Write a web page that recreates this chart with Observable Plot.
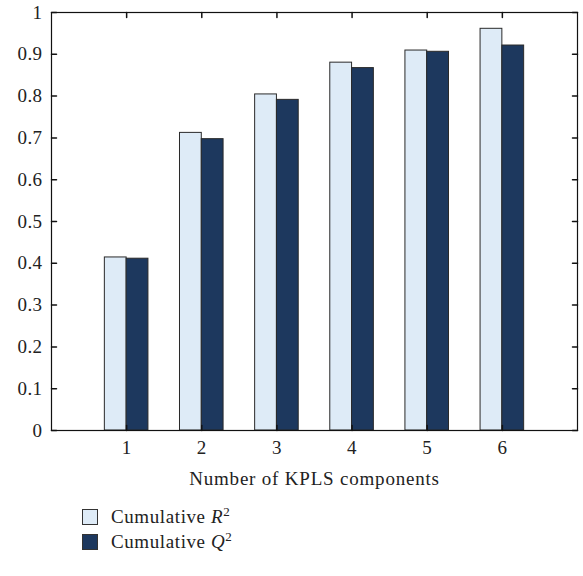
<!DOCTYPE html>
<html>
<head>
<meta charset="utf-8">
<script src="https://cdn.jsdelivr.net/npm/d3@7"></script>
<script src="https://cdn.jsdelivr.net/npm/@observablehq/plot@0.6"></script>
<style>
  body { margin: 0; background: #fff; font-family: "Liberation Serif", serif; }
  #legend { margin-left: 82px; margin-top: 9px; font-size: 19px; color: #222; letter-spacing: 0.6px; }
  .item { display: flex; align-items: center; height: 25px; }
  .sw { width: 14px; height: 14px; border: 1px solid #333; margin-right: 13px; }
  svg text { letter-spacing: 0.4px; }
  svg .xlab text { letter-spacing: 0.8px; }
</style>
</head>
<body>
<div id="chart"></div>
<div id="legend"></div>
<script>
const components = [1, 2, 3, 4, 5, 6];
const cumulativeR2 = [0.414, 0.712, 0.804, 0.880, 0.909, 0.961];
const cumulativeQ2 = [0.411, 0.697, 0.791, 0.867, 0.906, 0.921];
const yTicks = [0, 0.1, 0.2, 0.3, 0.4, 0.5, 0.6, 0.7, 0.8, 0.9, 1];
const xTicks = [1, 2, 3, 4, 5, 6];
const colors = ["#deebf7", "#1d385e"];

const barW = 0.29;
const rows = [];
components.forEach((k, i) => {
  rows.push({k, s: 0, v: cumulativeR2[i], x1: k - barW, x2: k});
  rows.push({k, s: 1, v: cumulativeQ2[i], x1: k, x2: k + barW});
});

const tickShape = {draw(ctx, l) { ctx.moveTo(0, 0); ctx.lineTo(0, -l); }};

const chart = Plot.plot({
  width: 583,
  height: 495,
  marginLeft: 51,
  marginRight: 6,
  marginTop: 12,
  marginBottom: 65,
  style: {fontFamily: "Liberation Serif, serif", fontSize: "19px", color: "#222"},
  x: {domain: [0, 7]},
  y: {domain: [0, 1]},
  marks: [
    Plot.rectY(rows, {x1: "x1", x2: "x2", y1: 0, y2: "v", fill: d => colors[d.s], stroke: "#2a2a2a", strokeWidth: 1}),
    Plot.frame({stroke: "#111", strokeWidth: 1.2}),
    Plot.axisY({ticks: yTicks, tickSize: 0, tickPadding: 9, tickFormat: d => String(d), label: null, fontSize: 19}),
    Plot.axisX({ticks: xTicks, tickSize: 0, tickPadding: 10, tickFormat: d => String(d), label: null, fontSize: 19}),
    Plot.vector(yTicks, {y: d => d, frameAnchor: "left", rotate: 90, length: 5, anchor: "start", shape: tickShape, stroke: "#111"}),
    Plot.vector(yTicks, {y: d => d, frameAnchor: "right", rotate: -90, length: 5, anchor: "start", shape: tickShape, stroke: "#111"}),
    Plot.vector(xTicks, {x: d => d, frameAnchor: "bottom", rotate: 0, length: 5, anchor: "start", shape: tickShape, stroke: "#111"}),
    Plot.vector(xTicks, {x: d => d, frameAnchor: "top", rotate: 180, length: 5, anchor: "start", shape: tickShape, stroke: "#111"}),
    Plot.text(["Number of KPLS components"], {frameAnchor: "bottom", dy: 54, text: d => d, fontSize: 19, fill: "#222", className: "xlab"})
  ]
});
document.getElementById("chart").appendChild(chart);

const legend = document.getElementById("legend");
const labels = [["Cumulative ", "R"], ["Cumulative ", "Q"]];
labels.forEach(([a, b], i) => {
  const div = document.createElement("div");
  div.className = "item";
  div.innerHTML = `<span class="sw" style="background:${colors[i]}"></span><span>${a}<i>${b}</i><sup style="font-size:13px">2</sup></span>`;
  legend.appendChild(div);
});
</script>
</body>
</html>
